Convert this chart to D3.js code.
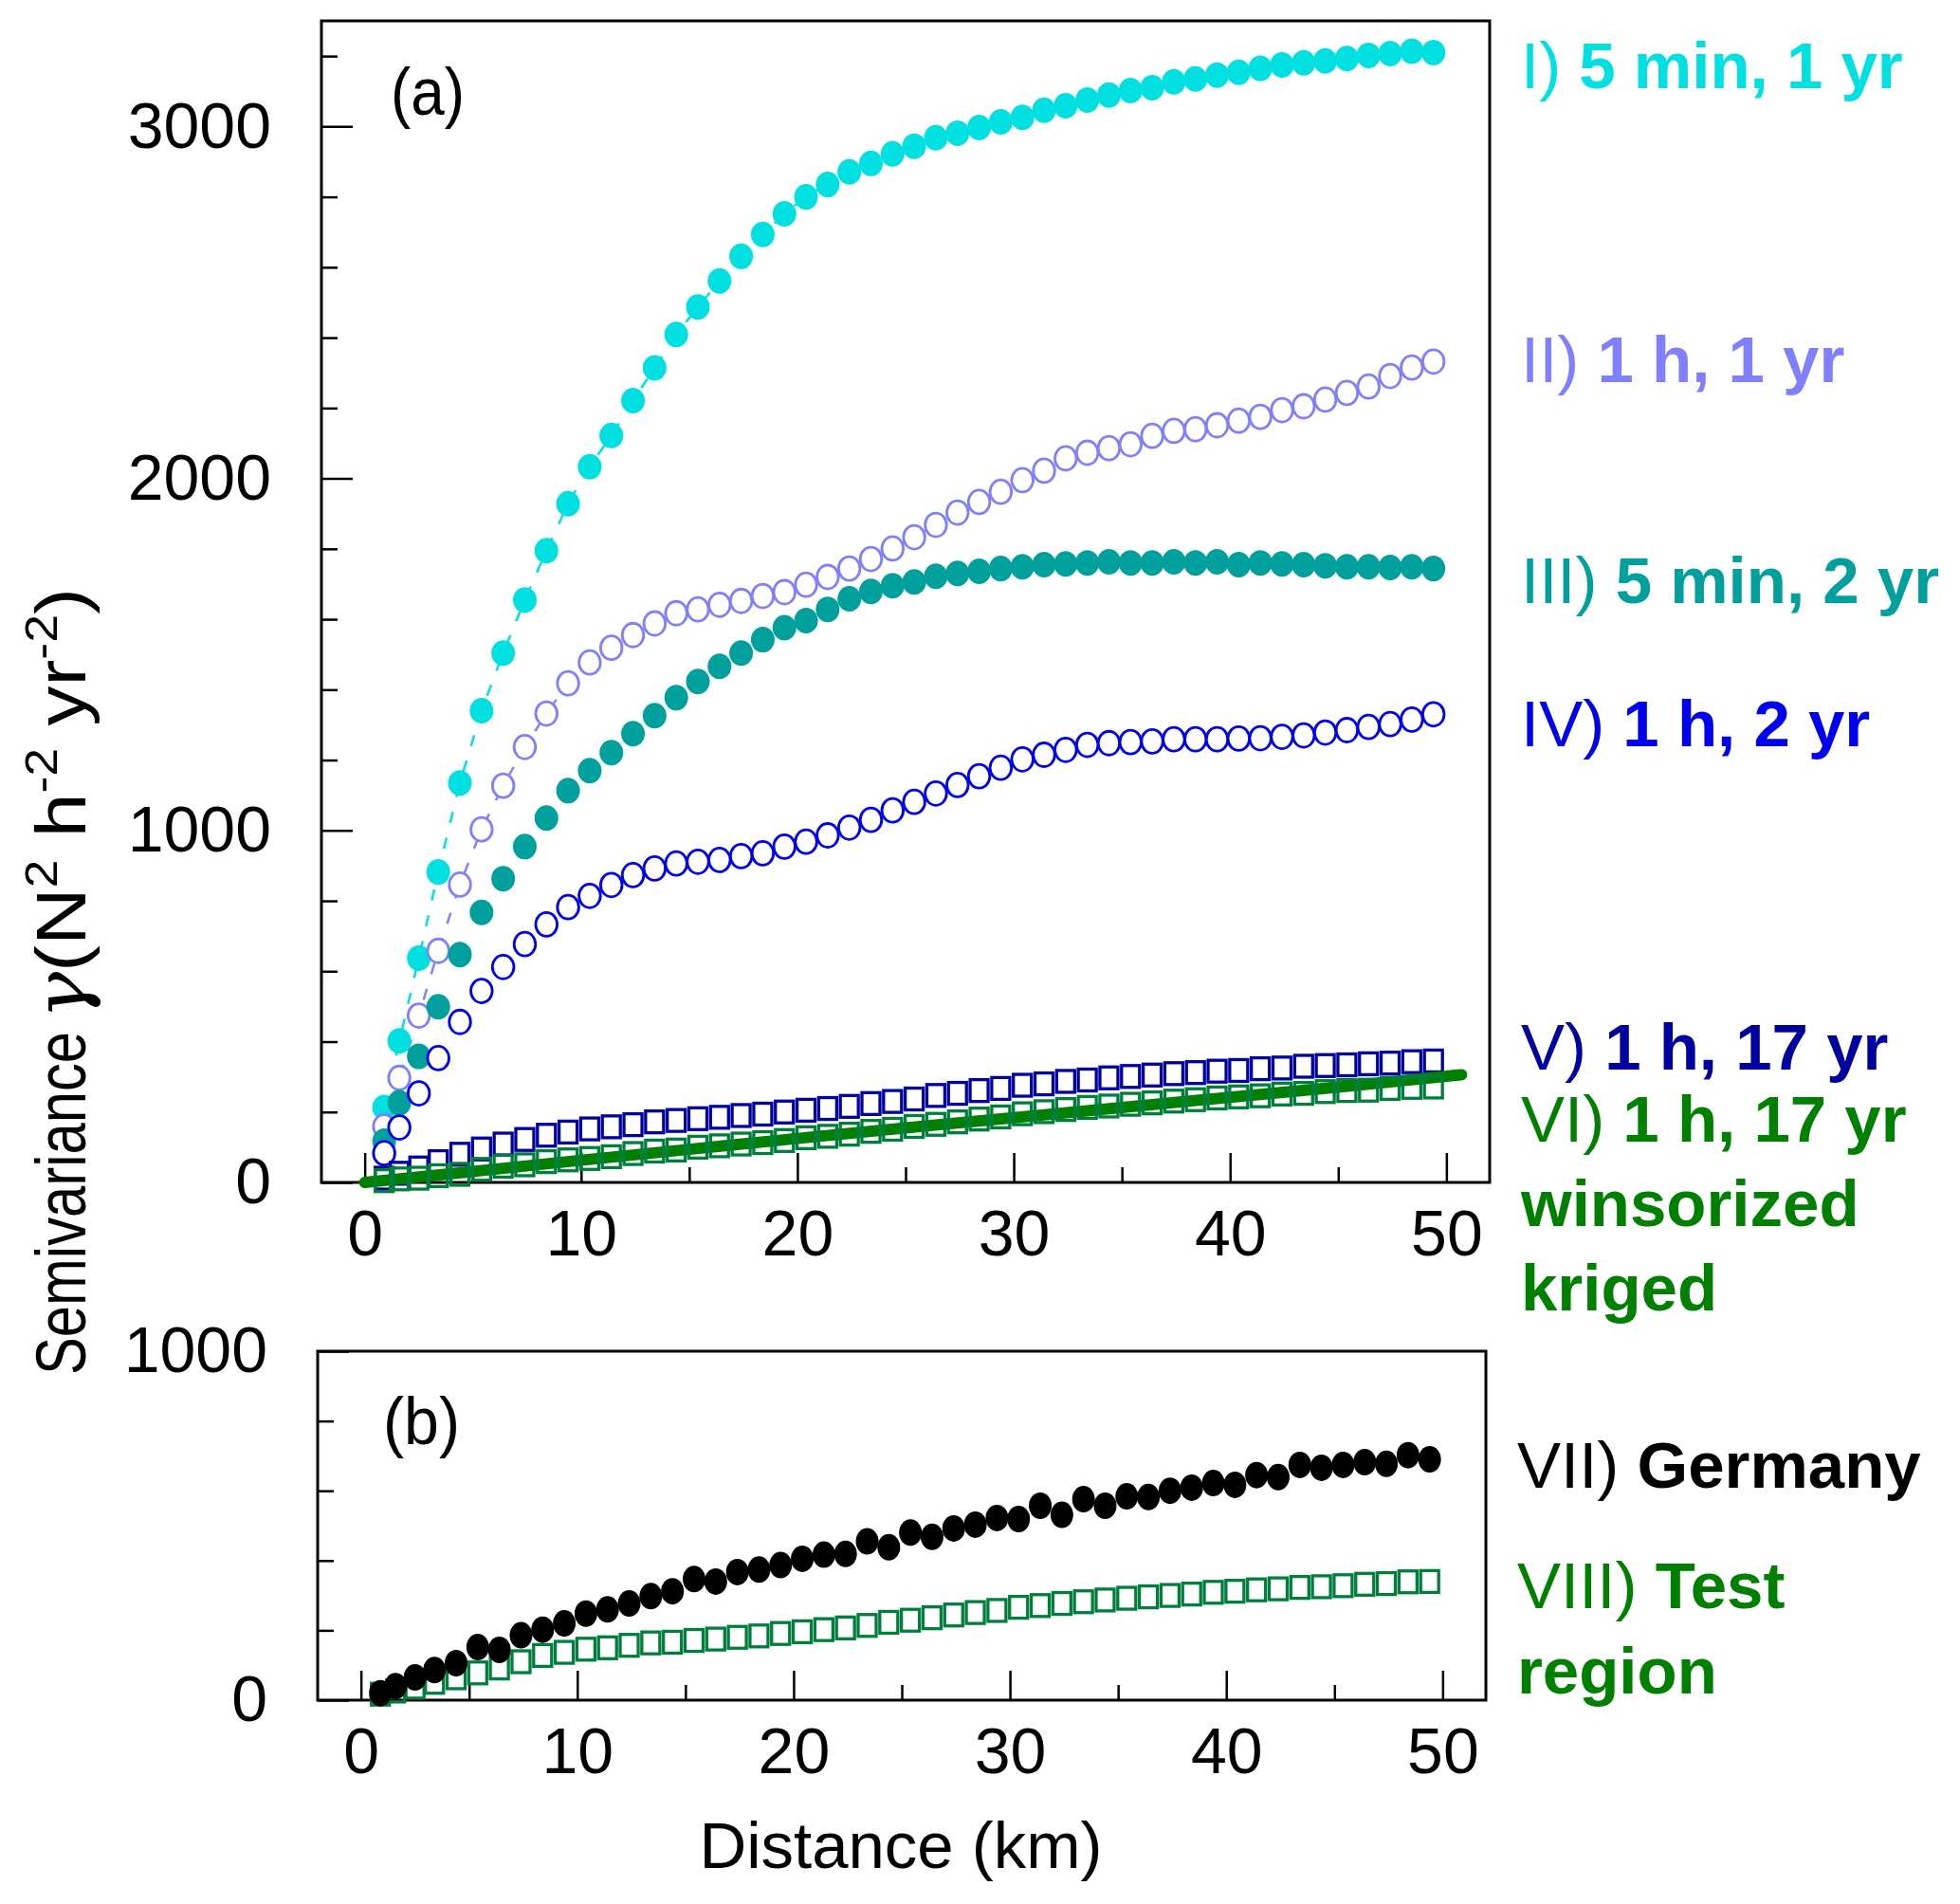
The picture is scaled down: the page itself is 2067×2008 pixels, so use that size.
<!DOCTYPE html>
<html>
<head>
<meta charset="utf-8">
<script src="https://cdn.jsdelivr.net/npm/d3@7"></script>
<style>
  body { margin: 0; background: #fff; }
  text { font-family: "Liberation Sans", Arial, Helvetica, sans-serif; }
</style>
</head>
<body>
<div id="chart"></div>
<script>
// lag distances (km), shared by every empirical variogram
let distance = [0.9, 1.6, 2.5, 3.4, 4.4, 5.4, 6.4, 7.4, 8.4, 9.4,
    10.4, 11.4, 12.4, 13.4, 14.4, 15.4, 16.4, 17.4, 18.4, 19.4,
    20.4, 21.4, 22.4, 23.4, 24.4, 25.4, 26.4, 27.4, 28.4, 29.4,
    30.4, 31.4, 32.4, 33.4, 34.4, 35.4, 36.4, 37.4, 38.4, 39.4,
    40.4, 41.4, 42.4, 43.4, 44.4, 45.4, 46.4, 47.4, 48.4, 49.4];

// (a) I) 5 min, 1 yr
let gamma5min1yr = [213, 402, 637, 882, 1135, 1340, 1504, 1655, 1795, 1928,
    2033, 2122, 2221, 2314, 2409, 2487, 2561, 2631, 2693, 2752,
    2800, 2835, 2871, 2895, 2922, 2944, 2968, 2981, 2997, 3013,
    3026, 3046, 3059, 3075, 3089, 3102, 3110, 3127, 3135, 3146,
    3154, 3165, 3175, 3181, 3186, 3193, 3202, 3207, 3214, 3210];
// (a) II) 1 h, 1 yr
let gamma1h1yr = [159, 297, 474, 658, 846, 1003, 1127, 1237, 1332, 1418,
    1477, 1519, 1555, 1588, 1617, 1628, 1641, 1652, 1666, 1677,
    1698, 1720, 1744, 1771, 1801, 1833, 1868, 1903, 1933, 1962,
    1995, 2022, 2057, 2073, 2086, 2097, 2121, 2135, 2140, 2151,
    2164, 2175, 2194, 2205, 2224, 2243, 2261, 2291, 2315, 2332];
// (a) III) 5 min, 2 yr
let gamma5min2yr = [117, 226, 358, 499, 647, 767, 863, 954, 1035, 1113,
    1170, 1221, 1275, 1326, 1377, 1423, 1466, 1504, 1542, 1576,
    1596, 1628, 1658, 1679, 1695, 1706, 1722, 1730, 1736, 1744,
    1749, 1755, 1757, 1760, 1763, 1760, 1760, 1763, 1760, 1763,
    1755, 1760, 1757, 1755, 1752, 1749, 1749, 1747, 1749, 1744];
// (a) IV) 1 h, 2 yr
let gamma1h2yr = [83, 156, 253, 353, 456, 544, 612, 677, 733, 782,
    814, 845, 873, 892, 906, 911, 916, 927, 935, 954,
    968, 986, 1008, 1030, 1057, 1081, 1105, 1129, 1154, 1178,
    1202, 1215, 1229, 1243, 1248, 1251, 1253, 1259, 1259, 1259,
    1261, 1262, 1266, 1270, 1278, 1285, 1294, 1302, 1315, 1330];
// (a) V) 1 h, 17 yr
let gamma1h17yr = [12, 26, 41, 59, 80, 95, 109, 122, 134, 143,
    152, 158, 164, 172, 176, 181, 185, 190, 194, 200,
    205, 210, 216, 224, 230, 237, 247, 253, 261, 267,
    276, 280, 287, 291, 297, 301, 305, 309, 312, 316,
    318, 323, 325, 330, 332, 334, 337, 339, 343, 345];
// (a) VI) 1 h, 17 yr winsorized
let gammaWinsorized = [5, 10, 12, 19, 23, 37, 46, 50, 59, 64,
    68, 73, 82, 89, 92, 100, 104, 109, 113, 119,
    127, 131, 137, 145, 151, 159, 165, 172, 180, 186,
    195, 201, 207, 213, 217, 222, 226, 231, 235, 240,
    243, 246, 251, 253, 258, 261, 262, 267, 270, 271];
// (a) VI) kriged model curve
let krigedDistance = [0, 5, 10, 15, 20, 25, 30, 35, 40, 45, 50.7];
let krigedGamma = [0, 31, 63, 94, 125, 155, 184, 213, 242, 271, 306];

// (b) VII) Germany
let gammaGermany = [20, 40, 65, 86, 106, 152, 144, 186, 202, 220,
    248, 260, 277, 298, 312, 347, 340, 367, 374, 387,
    405, 417, 419, 455, 438, 480, 468, 492, 503, 522,
    519, 557, 531, 576, 557, 584, 582, 600, 609, 622,
    617, 645, 639, 674, 666, 674, 682, 677, 702, 690];
// (b) VIII) Test region
let gammaTestRegion = [17, 26, 37, 51, 64, 78, 92, 110, 128, 137,
    146, 150, 157, 164, 166, 171, 175, 180, 184, 191,
    196, 202, 207, 214, 223, 229, 236, 244, 251, 257,
    266, 271, 277, 282, 287, 292, 296, 300, 304, 309,
    312, 316, 319, 323, 325, 328, 332, 334, 339, 340];

// tick labels
let xTicks = [0, 10, 20, 30, 40, 50];
let xMinorTicks = [5, 15, 25, 35, 45];
let yTicksA = [0, 1000, 2000, 3000];
let yMinorTicksA = [200, 400, 600, 800, 1200, 1400, 1600, 1800, 2200, 2400, 2600, 2800, 3200];
let yTicksB = [0, 1000];
let yMinorTicksB = [200, 400, 600, 800];

// legend text
let legendNumerals = ["I)", "II)", "III)", "IV)", "V)", "VI)", "", "", "VII)", "VIII)", ""];
let legendTexts = ["5 min, 1 yr", "1 h, 1 yr", "5 min, 2 yr", "1 h, 2 yr", "1 h, 17 yr",
    "1 h, 17 yr", "winsorized", "kriged", "Germany", "Test", "region"];

let colors = {
    c1: "#00e0e0", c2: "#8080ff", c3: "#00a09c", c4: "#0000f0",
    c5: "#0000a0", c6: "#008000", c6sq: "#007f3c", c7: "#000000"
};
let legendColors = [colors.c1, colors.c2, colors.c3, colors.c4, colors.c5,
    colors.c6, colors.c6, colors.c6, colors.c7, colors.c6, colors.c6];
let legendBaselines = [93, 403, 636, 787, 1128, 1204, 1293, 1382, 1569, 1696, 1786];

let svg = d3.select("#chart").append("svg")
    .attr("width", 2067)
    .attr("height", 2008);

// scales
let xA = d3.scaleLinear().domain([-2, 52]).range([339, 1571]);
let yA = d3.scaleLinear().domain([0, 3300]).range([1247, 22]);
let xB = d3.scaleLinear().domain([-2, 52]).range([335, 1567]);
let yB = d3.scaleLinear().domain([0, 1000]).range([1793, 1425]);

const styleAxis = g => {
    g.select(".domain").remove();
    g.attr("font-family", null).attr("font-size", 68);
    g.selectAll(".tick line").attr("stroke", "#000").attr("stroke-width", 2.5);
    g.selectAll(".tick text").attr("fill", "#000");
};

const drawAxes = (g, x, y, yTicks, yMinor) => {
    g.append("g").attr("transform", "translate(0," + y.range()[0] + ")")
        .call(d3.axisBottom(x).tickValues(xTicks).tickSize(-31).tickPadding(29).tickFormat(d3.format("d")))
        .call(styleAxis);
    g.append("g").attr("transform", "translate(0," + y.range()[0] + ")")
        .call(d3.axisBottom(x).tickValues(xMinorTicks).tickSize(-16).tickFormat(""))
        .call(styleAxis);
    g.append("g").attr("transform", "translate(" + x.range()[0] + ",0)")
        .call(d3.axisLeft(y).tickValues(yTicks).tickSize(-33).tickPadding(53).tickFormat(d3.format("d")))
        .call(styleAxis);
    g.append("g").attr("transform", "translate(" + x.range()[0] + ",0)")
        .call(d3.axisLeft(y).tickValues(yMinor).tickSize(-17).tickFormat(""))
        .call(styleAxis);
    // frame
    g.append("rect")
        .attr("x", x.range()[0]).attr("y", y.range()[1])
        .attr("width", x.range()[1] - x.range()[0])
        .attr("height", y.range()[0] - y.range()[1])
        .attr("fill", "none").attr("stroke", "#000").attr("stroke-width", 3);
};

const dashedLine = (g, x, y, values, color) => {
    g.append("path")
        .datum(d3.zip(distance, values))
        .attr("fill", "none")
        .attr("stroke", color)
        .attr("stroke-width", 2.5)
        .attr("stroke-dasharray", "12,16")
        .attr("d", d3.line().x(d => x(d[0])).y(d => y(d[1])));
};

// filled discs, or open rings with a white face
const circles = (g, x, y, values, color, filled) => {
    g.append("g")
        .selectAll("ellipse")
        .data(d3.zip(distance, values))
        .enter()
        .append("ellipse")
        .attr("cx", d => x(d[0]))
        .attr("cy", d => y(d[1]))
        .attr("rx", filled ? 12.5 : 11.3)
        .attr("ry", filled ? 13.5 : 12.5)
        .attr("fill", filled ? color : "#fff")
        .attr("stroke", filled ? "none" : color)
        .attr("stroke-width", 2.8);
};

const squares = (g, x, y, values, color) => {
    g.append("g")
        .selectAll("rect")
        .data(d3.zip(distance, values))
        .enter()
        .append("rect")
        .attr("x", d => x(d[0]) - 9.5)
        .attr("y", d => y(d[1]) - 11.5)
        .attr("width", 19)
        .attr("height", 23)
        .attr("fill", "none")
        .attr("stroke", color)
        .attr("stroke-width", 3.3);
};

// panel (a)
let gA = svg.append("g");
drawAxes(gA, xA, yA, yTicksA, yMinorTicksA);
dashedLine(gA, xA, yA, gamma5min1yr, colors.c1);
dashedLine(gA, xA, yA, gamma1h1yr, colors.c2);
circles(gA, xA, yA, gamma5min1yr, colors.c1, true);
circles(gA, xA, yA, gamma1h1yr, colors.c2, false);
circles(gA, xA, yA, gamma5min2yr, colors.c3, true);
circles(gA, xA, yA, gamma1h2yr, colors.c4, false);
squares(gA, xA, yA, gamma1h17yr, colors.c5);
gA.append("path")
    .datum(d3.zip(krigedDistance, krigedGamma))
    .attr("fill", "none")
    .attr("stroke", colors.c6)
    .attr("stroke-width", 12)
    .attr("stroke-linecap", "round")
    .attr("d", d3.line().x(d => xA(d[0])).y(d => yA(d[1])).curve(d3.curveMonotoneX));
squares(gA, xA, yA, gammaWinsorized, colors.c6sq);
gA.append("text").attr("x", 412).attr("y", 121)
    .attr("font-size", 70).attr("textLength", 78).attr("lengthAdjust", "spacingAndGlyphs")
    .text("(a)");

// panel (b)
let gB = svg.append("g");
drawAxes(gB, xB, yB, yTicksB, yMinorTicksB);
squares(gB, xB, yB, gammaTestRegion, colors.c6sq);
gB.append("g")
    .selectAll("ellipse")
    .data(d3.zip(distance, gammaGermany))
    .enter()
    .append("ellipse")
    .attr("cx", d => xB(d[0]))
    .attr("cy", d => yB(d[1]))
    .attr("rx", 12)
    .attr("ry", 14)
    .attr("fill", colors.c7);
gB.append("text").attr("x", 404).attr("y", 1523)
    .attr("font-size", 70).attr("textLength", 81).attr("lengthAdjust", "spacingAndGlyphs")
    .text("(b)");

// axis titles
svg.append("text")
    .attr("x", 950).attr("y", 1970)
    .attr("text-anchor", "middle")
    .attr("font-size", 68)
    .attr("textLength", 425).attr("lengthAdjust", "spacingAndGlyphs")
    .text("Distance (km)");

let yLab = svg.append("g").attr("transform", "translate(90,1035) rotate(-90)");
yLab.append("text")
    .attr("x", -415)
    .attr("font-size", 75)
    .attr("textLength", 362).attr("lengthAdjust", "spacingAndGlyphs")
    .text("Semivariance");
let yLab2 = yLab.append("text")
    .attr("x", -40)
    .attr("font-size", 75)
    .attr("textLength", 455).attr("lengthAdjust", "spacingAndGlyphs");
yLab2.append("tspan").attr("font-family", "DejaVu Serif").attr("font-style", "italic").text("γ");
yLab2.append("tspan").text("(N");
yLab2.append("tspan").attr("font-size", 48).attr("dy", -30).text("2");
yLab2.append("tspan").attr("dy", 30).text(" h");
yLab2.append("tspan").attr("font-size", 48).attr("dy", -30).text("-2");
yLab2.append("tspan").attr("dy", 30).text(" yr");
yLab2.append("tspan").attr("font-size", 48).attr("dy", -30).text("-2");
yLab2.append("tspan").attr("dy", 30).text(")");

// legend labels on the right
let legend = svg.append("g")
    .selectAll("text")
    .data(legendTexts)
    .enter()
    .append("text")
    .attr("x", (d, i) => i < 8 ? 1604 : 1600)
    .attr("y", (d, i) => legendBaselines[i])
    .attr("font-size", 69)
    .attr("fill", (d, i) => legendColors[i]);
legend.append("tspan")
    .text((d, i) => legendNumerals[i] ? legendNumerals[i] + " " : "");
legend.append("tspan")
    .attr("font-weight", "bold")
    .text(d => d);
</script>
</body>
</html>
